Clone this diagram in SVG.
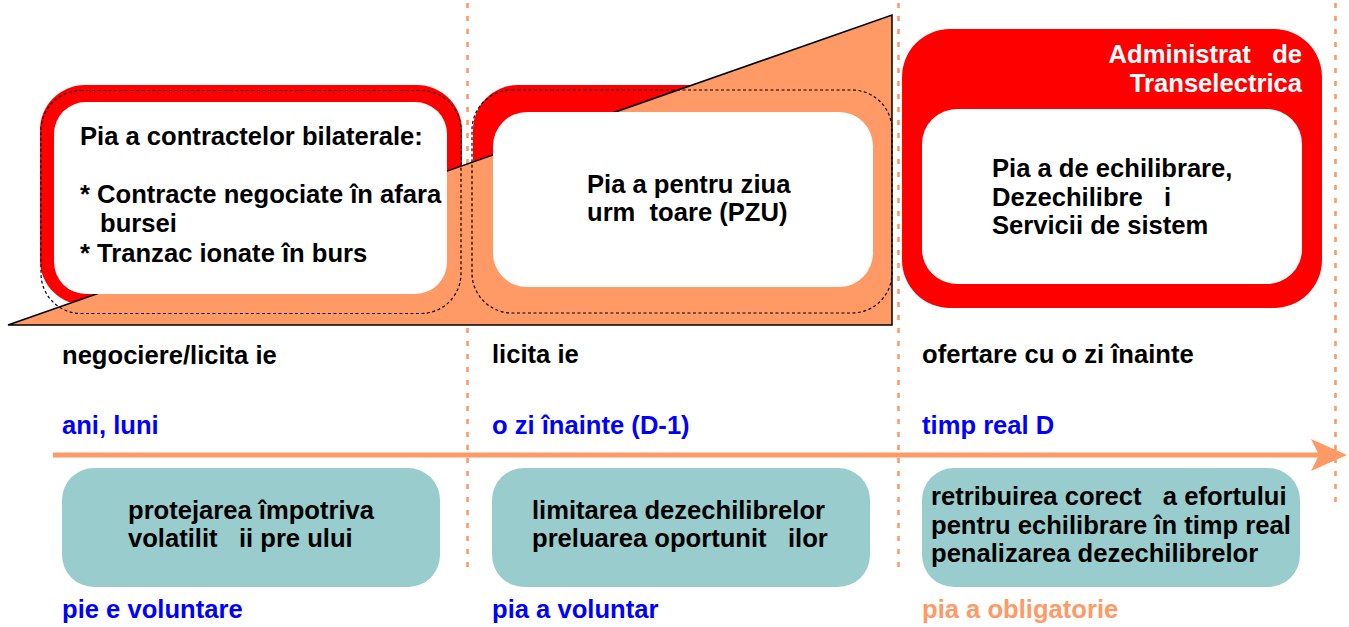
<svg xmlns="http://www.w3.org/2000/svg" width="1349" height="627" viewBox="0 0 1349 627">
  <style>
    text { font-family: "Liberation Sans", Arial, sans-serif; font-weight: bold; font-size: 25.6px; }
    .blk { fill: #000000; }
    .blue { fill: #0000FF; }
    .org { fill: #FF9966; }
    .wht { fill: #FFFFFF; }
    .red { fill: #FF0000; }
    .inner { fill: #FFFFFF; }
    .teal { fill: #99CCCC; }
    .dotted { fill: none; stroke: #000000; stroke-width: 1.2; stroke-dasharray: 3 2.5; }
    .vline { stroke: #FF9966; stroke-width: 2.6; stroke-dasharray: 5 8; fill: none; }
  </style>
  <rect x="0" y="0" width="1349" height="627" fill="#FFFFFF"/>

  <g id="separators">
    <line class="vline" x1="467.5" y1="3" x2="467.5" y2="567"/>
    <line class="vline" x1="898.5" y1="3" x2="898.5" y2="567"/>
    <line class="vline" x1="1335.5" y1="3" x2="1335.5" y2="503"/>
  </g>

  <g id="red-boxes-back">
    <rect id="box1-red" class="red" x="40" y="85" width="422" height="220" rx="45" ry="45"/>
    <rect id="box2-red" class="red" x="473" y="85" width="417" height="220" rx="45" ry="45"/>
  </g>

  <g id="volume-wedge">
    <polygon points="8,325 892,15 892,325" fill="#FF9966" stroke="#000000" stroke-width="1.5" stroke-linejoin="miter"/>
  </g>

  <g id="node-bilateral">
    <rect class="inner" x="54" y="102" width="393" height="192" rx="32" ry="32"/>
    <rect class="dotted" x="41" y="90.5" width="420" height="223" rx="40" ry="40"/>
    <text class="blk" x="80" y="145" xml:space="preserve">Pia a contractelor bilaterale:</text>
    <text class="blk" x="80" y="203" xml:space="preserve">* Contracte negociate în afara</text>
    <text class="blk" x="100" y="232" xml:space="preserve">bursei</text>
    <text class="blk" x="80" y="262" xml:space="preserve">* Tranzac ionate în burs</text>
  </g>

  <g id="node-pzu">
    <rect class="inner" x="493" y="112" width="380" height="175" rx="34" ry="34"/>
    <rect class="dotted" x="472" y="90" width="420" height="223" rx="40" ry="40"/>
    <text class="blk" x="587" y="193" xml:space="preserve">Pia a pentru ziua</text>
    <text class="blk" x="587" y="221" xml:space="preserve">urm  toare (PZU)</text>
  </g>

  <g id="node-echilibrare">
    <rect class="red" x="902" y="29" width="420" height="279" rx="48" ry="48"/>
    <rect class="inner" x="922" y="109" width="380" height="175" rx="35" ry="35"/>
    <text class="wht" x="1302" y="63" text-anchor="end" xml:space="preserve">Administrat   de</text>
    <text class="wht" x="1302" y="92" text-anchor="end" xml:space="preserve">Transelectrica</text>
    <text class="blk" x="992" y="177" xml:space="preserve">Pia a de echilibrare,</text>
    <text class="blk" x="992" y="206" xml:space="preserve">Dezechilibre   i</text>
    <text class="blk" x="992" y="234" xml:space="preserve">Servicii de sistem</text>
  </g>

  <g id="labels-method">
    <text class="blk" x="62" y="364" xml:space="preserve">negociere/licita ie</text>
    <text class="blk" x="492" y="363" xml:space="preserve">licita ie</text>
    <text class="blk" x="922" y="363" xml:space="preserve">ofertare cu o zi înainte</text>
  </g>

  <g id="labels-time">
    <text class="blue" x="62" y="434" xml:space="preserve">ani, luni</text>
    <text class="blue" x="492" y="434" xml:space="preserve">o zi înainte (D-1)</text>
    <text class="blue" x="922" y="434" xml:space="preserve">timp real D</text>
  </g>

  <g id="connectors">
    <line x1="53" y1="455" x2="1320" y2="455" stroke="#FF9966" stroke-width="5"/>
    <polygon points="1347,455 1311,439 1319,455 1311,471" fill="#FF9966"/>
  </g>

  <g id="node-goal-1">
    <rect class="teal" x="62" y="468" width="378" height="119" rx="32" ry="32"/>
    <text class="blk" x="128" y="519" xml:space="preserve">protejarea împotriva</text>
    <text class="blk" x="128" y="547" xml:space="preserve">volatilit   ii pre ului</text>
  </g>

  <g id="node-goal-2">
    <rect class="teal" x="492" y="468" width="378" height="119" rx="32" ry="32"/>
    <text class="blk" x="532" y="519" xml:space="preserve">limitarea dezechilibrelor</text>
    <text class="blk" x="532" y="547" xml:space="preserve">preluarea oportunit   ilor</text>
  </g>

  <g id="node-goal-3">
    <rect class="teal" x="922" y="468" width="378" height="119" rx="32" ry="32"/>
    <text class="blk" x="931" y="505" xml:space="preserve">retribuirea corect   a efortului</text>
    <text class="blk" x="931" y="534" xml:space="preserve">pentru echilibrare în timp real</text>
    <text class="blk" x="931" y="562" xml:space="preserve">penalizarea dezechilibrelor</text>
  </g>

  <g id="labels-market">
    <text class="blue" x="62" y="618" xml:space="preserve">pie e voluntare</text>
    <text class="blue" x="492" y="618" xml:space="preserve">pia a voluntar</text>
    <text class="org" x="922" y="618" xml:space="preserve">pia a obligatorie</text>
  </g>
</svg>
